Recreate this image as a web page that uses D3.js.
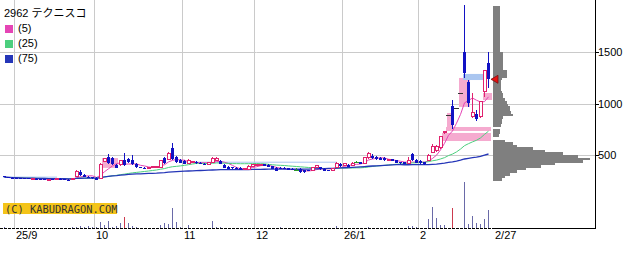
<!DOCTYPE html>
<html lang="ja">
<head>
<meta charset="utf-8">
<script src="https://d3js.org/d3.v7.min.js"></script>
<style>
    body {
        margin: 0;
        background: #fff;
    }

    svg {
        display: block;
        font-family: "Liberation Sans", "Noto Sans CJK JP", sans-serif;
    }
</style>
</head>

<body>
<div id="chart"></div>
<script>
// ---- data (daily candles, 25/8 end .. 26/2/27) ----
var title = "2962 テクニスコ";

var open = [292, 284, 280, 278, 275, 272, 272, 268, 270, 266, 265, 262, 264, 262, 268, 264, 262, 262, 296, 335,
    305, 290, 284, 280, 270, 440, 481, 471, 403, 403, 451, 460, 451, 413, 380, 378, 372, 378, 380, 383,
    471, 461, 568, 481, 451, 442, 420, 430, 432, 420, 416, 412, 432, 450, 440, 403, 383, 380, 376, 374,
    356, 364, 385, 395, 400, 408, 403, 393, 374, 376, 374, 372, 364, 354, 364, 350, 350, 354, 375, 380,
    364, 352, 350, 374, 413, 395, 403, 400, 432, 430, 422, 471, 495, 481, 471, 470, 445, 461, 451, 432,
    430, 422, 510, 451, 445, 432, 442, 529, 539, 568, 728, 888, 976, 956, 1100, 1500, 1209, 869, 898, 869,
    1121, 1393];
var high = [294, 286, 284, 280, 278, 276, 274, 272, 272, 270, 268, 266, 266, 270, 272, 268, 266, 276, 352, 358,
    312, 296, 288, 284, 420, 475, 505, 480, 410, 450, 519, 475, 500, 420, 385, 380, 385, 388, 392, 455,
    480, 525, 617, 490, 460, 448, 460, 440, 438, 428, 424, 430, 485, 485, 450, 410, 390, 386, 380, 380,
    378, 400, 408, 410, 412, 412, 410, 398, 380, 382, 380, 378, 370, 370, 370, 356, 356, 388, 404, 385,
    370, 356, 376, 430, 420, 418, 410, 430, 440, 436, 475, 530, 505, 488, 478, 476, 465, 466, 455, 436,
    436, 481, 520, 458, 450, 436, 505, 607, 600, 680, 733, 888, 1034, 956, 1100, 1956, 1228, 1102, 937, 1020,
    1330, 1500];
var low = [282, 278, 276, 272, 270, 268, 266, 265, 264, 262, 260, 258, 260, 260, 262, 258, 258, 260, 292, 300,
    282, 276, 268, 255, 265, 432, 410, 405, 370, 398, 395, 420, 405, 370, 370, 368, 370, 372, 376, 380,
    415, 455, 455, 425, 418, 410, 412, 422, 415, 410, 408, 410, 428, 440, 410, 370, 360, 368, 366, 350,
    350, 360, 382, 390, 395, 390, 380, 360, 340, 365, 362, 350, 350, 348, 330, 330, 340, 350, 372, 355,
    340, 344, 346, 370, 385, 390, 380, 395, 425, 410, 418, 465, 465, 455, 448, 446, 440, 438, 418, 416,
    410, 418, 445, 418, 415, 405, 438, 520, 530, 560, 700, 888, 752, 956, 1100, 1248, 967, 860, 830, 860,
    1063, 1150];
var close = [284, 280, 278, 274, 272, 270, 268, 270, 266, 264, 262, 264, 262, 268, 264, 262, 260, 272, 342, 305,
    288, 282, 272, 262, 410, 462, 425, 413, 374, 442, 403, 430, 413, 380, 374, 372, 382, 384, 388, 451,
    422, 519, 461, 432, 422, 413, 445, 436, 420, 414, 412, 426, 465, 470, 415, 374, 364, 372, 370, 356,
    372, 393, 403, 405, 408, 395, 385, 364, 345, 370, 368, 354, 356, 354, 335, 336, 342, 383, 396, 360,
    345, 348, 372, 422, 393, 413, 385, 422, 432, 413, 471, 519, 471, 461, 451, 452, 461, 442, 422, 420,
    413, 451, 451, 422, 420, 413, 500, 578, 580, 675, 733, 888, 791, 956, 1100, 1296, 1005, 908, 850, 1015,
    1316, 1235];
// volume (千株)
var volume = [10, 5, 5, 5, 5, 5, 5, 5, 5, 5, 5, 5, 5, 5, 5, 5, 5, 10, 15, 20,
    10, 20, 10, 10, 60, 30, 70, 10, 20, 50, 110, 50, 20, 10, 5, 5, 5, 5, 5, 30,
    50, 40, 200, 60, 10, 5, 30, 5, 5, 5, 5, 5, 70, 10, 10, 5, 5, 5, 5, 5,
    5, 5, 5, 5, 5, 5, 5, 5, 5, 10, 5, 5, 5, 5, 5, 5, 5, 5, 5, 5,
    5, 5, 5, 20, 5, 5, 5, 5, 5, 5, 5, 10, 5, 5, 5, 5, 5, 5, 5, 5,
    5, 20, 25, 10, 5, 5, 90, 210, 100, 30, 30, 5, 200, 5, 5, 460, 40, 120, 50, 40,
    90, 180];
var volRed = [30, 112];

// month grid (index of first trading day)
var monthIdx = [3, 23, 45, 63, 85, 104];
var monthLabel = ["25/9", "10", "11", "12", "26/1", "2"];
var lastLabel = "2/27";
var priceTicks = [500, 1000, 1500];

// moving averages
var maPeriods = [5, 25, 75];
var maNames = ["(5)", "(25)", "(75)"];

// price gaps (窓): from/to index, low/high price, up = pink, down = blue
var gapFrom = [24.5, 109.5, 110.5, 110.75, 113.75, 119.75, 114.75, -0.25, 44.75];
var gapTo = [28.5, 121.75, 121.75, 112.25, 116.5, 122, 119.75, 13.25, 83.25];
var gapLow = [375, 636, 733, 762, 967, 1034, 1228, 280, 425];
var gapHigh = [470, 714, 772, 908, 1248, 1102, 1287, 290, 435];
var gapUp = [true, true, true, true, true, true, false, false, false];

// volume by price, 25 yen bins from 250
var profBase = 250, profStep = 25;
var profVol = [9, 12, 17, 24, 33, 48, 62, 90, 97, 85,
    70, 52, 40, 24, 20, 12, 0, 6, 7, 7,
    0, 8, 9, 9, 10, 20, 18, 17, 17, 15,
    14, 12, 10, 10, 9, 8, 8, 8, 8, 9,
    14, 14, 14, 10, 10, 10, 10, 10, 10, 10,
    7, 7, 7, 7, 7, 7, 7, 7, 7, 7,
    7, 7, 7, 7, 7, 7, 7, 7];

// ---- layout ----
var W = 640, H = 255;
var plotRight = 595, plotBottom = 228;
var upColor = "#e0226e", downColor = "#1212c4";
var maColors = ["#e545b5", "#4ccf7e", "#2536b8"];

var svg = d3.select("#chart")
    .append("svg")
    .attr("width", W)
    .attr("height", H);

svg.append("rect").attr("width", W).attr("height", H).attr("fill", "#fff");

var n = close.length;
var x = d3.scaleLinear().domain([0, n - 1]).range([4, 488]);
var y = d3.scaleLinear().domain([500, 1500]).range([155, 52]);
var yv = d3.scaleLinear().domain([0, 500]).range([plotBottom, plotBottom - 50]);
var wp = d3.scaleLinear().domain([0, 100]).range([0, 100]);

var idx = d3.range(n);

// grid
svg.append("g").selectAll("line.vg")
    .data(monthIdx)
    .enter().append("line")
    .attr("x1", function(d) { return Math.round(x(d)) - 1.5; })
    .attr("x2", function(d) { return Math.round(x(d)) - 1.5; })
    .attr("y1", 0).attr("y2", plotBottom)
    .attr("stroke", "#cacaca");

svg.append("g").selectAll("line.hg")
    .data(priceTicks)
    .enter().append("line")
    .attr("x1", 0).attr("x2", plotRight)
    .attr("y1", function(d) { return Math.round(y(d)) + 0.5; })
    .attr("y2", function(d) { return Math.round(y(d)) + 0.5; })
    .attr("stroke", "#cacaca");

// gaps
svg.append("g").selectAll("rect")
    .data(d3.range(gapFrom.length))
    .enter().append("rect")
    .attr("x", function(k) { return x(gapFrom[k]); })
    .attr("width", function(k) { return x(gapTo[k]) - x(gapFrom[k]); })
    .attr("y", function(k) { return y(gapHigh[k]); })
    .attr("height", function(k) { return Math.max(1, y(gapLow[k]) - y(gapHigh[k])); })
    .attr("fill", function(k) { return gapUp[k] ? "#f5aacf" : "#aac6f0"; });

// moving averages (partial window at the start)
function sma(p) {
    return idx.map(function(i) {
        var s = Math.max(0, i - p + 1);
        return d3.mean(close.slice(s, i + 1));
    });
}
var line = d3.line()
    .x(function(d, i) { return x(i) + 0.5; })
    .y(function(d) { return y(d); });

maPeriods.forEach(function(p, k) {
    svg.append("path")
        .datum(sma(p))
        .attr("d", line)
        .attr("fill", "none")
        .attr("stroke", maColors[k])
        .attr("stroke-width", k == 2 ? 1.3 : 1);
});

// candles
function candleColor(i) {
    if (open[i] == close[i]) return high[i] == low[i] ? "#333" : "#2a9a2a";
    return close[i] > open[i] ? upColor : downColor;
}
var cg = svg.append("g").attr("shape-rendering", "crispEdges");
cg.selectAll("line")
    .data(idx)
    .enter().append("line")
    .attr("x1", function(i) { return x(i) + 0.5; })
    .attr("x2", function(i) { return x(i) + 0.5; })
    .attr("y1", function(i) { return y(high[i]); })
    .attr("y2", function(i) { return y(low[i]); })
    .attr("stroke", candleColor);

cg.selectAll("rect")
    .data(idx)
    .enter().append("rect")
    .attr("x", function(i) { return x(i) - 1; })
    .attr("width", 3)
    .attr("y", function(i) { return y(Math.max(open[i], close[i])); })
    .attr("height", function(i) { return Math.max(1, Math.abs(y(open[i]) - y(close[i]))); })
    .attr("fill", function(i) { return close[i] > open[i] ? "#fff" : candleColor(i); })
    .attr("stroke", function(i) { return close[i] > open[i] ? upColor : "none"; });

// doji marks as short dashes
cg.selectAll("line.doji")
    .data(idx.filter(function(i) { return open[i] == close[i]; }))
    .enter().append("line")
    .attr("x1", function(i) { return x(i) - 2; })
    .attr("x2", function(i) { return x(i) + 3; })
    .attr("y1", function(i) { return Math.round(y(close[i])) + 0.5; })
    .attr("y2", function(i) { return Math.round(y(close[i])) + 0.5; })
    .attr("stroke", candleColor);

// volume
svg.append("g").attr("shape-rendering", "crispEdges")
    .selectAll("line")
    .data(idx)
    .enter().append("line")
    .attr("x1", function(i) { return x(i) + 0.5; })
    .attr("x2", function(i) { return x(i) + 0.5; })
    .attr("y1", yv(0))
    .attr("y2", function(i) { return yv(volume[i]); })
    .attr("stroke", function(i) { return volRed.indexOf(i) >= 0 ? "#cc3a4e" : "#6a6aa8"; });

// volume by price
var profX = 493;
function binTop(k) { return Math.round(y(profBase + (k + 1) * profStep)); }
svg.append("g").attr("shape-rendering", "crispEdges")
    .selectAll("rect")
    .data(profVol)
    .enter().append("rect")
    .attr("x", profX)
    .attr("y", function(d, k) { return binTop(k); })
    .attr("width", function(d) { return Math.round(wp(d)); })
    .attr("height", function(d, k) { return binTop(k - 1) - binTop(k); })
    .attr("fill", "#7f7f7f");

// last price marker
var ly = y(close[n - 1]);
svg.append("path")
    .attr("d", "M" + (x(n - 1) + 3) + "," + ly + "L" + (x(n - 1) + 10) + "," + (ly - 4) + "L" + (x(n - 1) + 10) + "," + (ly + 4) + "Z")
    .attr("fill", "#e81010")
    .attr("stroke", "#7a1010")
    .attr("stroke-width", 0.8);

// axes
svg.append("line")
    .attr("x1", plotRight + 0.5).attr("x2", plotRight + 0.5)
    .attr("y1", 0).attr("y2", plotBottom + 1)
    .attr("stroke", "#000");
svg.append("line")
    .attr("x1", 0).attr("x2", profX)
    .attr("y1", plotBottom + 0.5).attr("y2", plotBottom + 0.5)
    .attr("stroke", "#000")
    .attr("stroke-dasharray", "3,1");
svg.append("line")
    .attr("x1", profX).attr("x2", plotRight)
    .attr("y1", plotBottom + 0.5).attr("y2", plotBottom + 0.5)
    .attr("stroke", "#000");

var ticks = svg.append("g").selectAll("g")
    .data(priceTicks)
    .enter().append("g")
    .attr("transform", function(d) { return "translate(0," + (Math.round(y(d)) + 0.5) + ")"; });
ticks.append("line")
    .attr("x1", plotRight).attr("x2", plotRight + 4)
    .attr("stroke", "#000");
ticks.append("text")
    .attr("x", plotRight + 3)
    .attr("dy", "0.36em")
    .style("font-size", "11px")
    .text(function(d) { return d; });

svg.append("g").selectAll("text")
    .data(monthIdx)
    .enter().append("text")
    .attr("x", function(d) { return Math.round(x(d)); })
    .attr("y", 239)
    .style("font-size", "11px")
    .text(function(d, k) { return monthLabel[k]; });
svg.append("text")
    .attr("x", x(n - 1) + 7)
    .attr("y", 239)
    .style("font-size", "11px")
    .text(lastLabel);

// legend
svg.append("text")
    .attr("x", 4).attr("y", 17)
    .style("font-size", "11px")
    .text(title);
maNames.forEach(function(t, k) {
    svg.append("rect")
        .attr("x", 5).attr("y", 25 + k * 15)
        .attr("width", 8).attr("height", 8)
        .attr("fill", maColors[k]);
    svg.append("text")
        .attr("x", 18).attr("y", 32 + k * 15)
        .style("font-size", "11px")
        .text(t);
});

// watermark
svg.append("rect")
    .attr("x", 3).attr("y", 203)
    .attr("width", 114).attr("height", 11)
    .attr("fill", "#f4c419");
svg.append("text")
    .attr("x", 5).attr("y", 212.5)
    .style("font-family", "DejaVu Sans Mono, monospace")
    .style("font-size", "10.4px")
    .attr("fill", "#333")
    .text("(C) KABUDRAGON.COM");
</script>
</body>
</html>
